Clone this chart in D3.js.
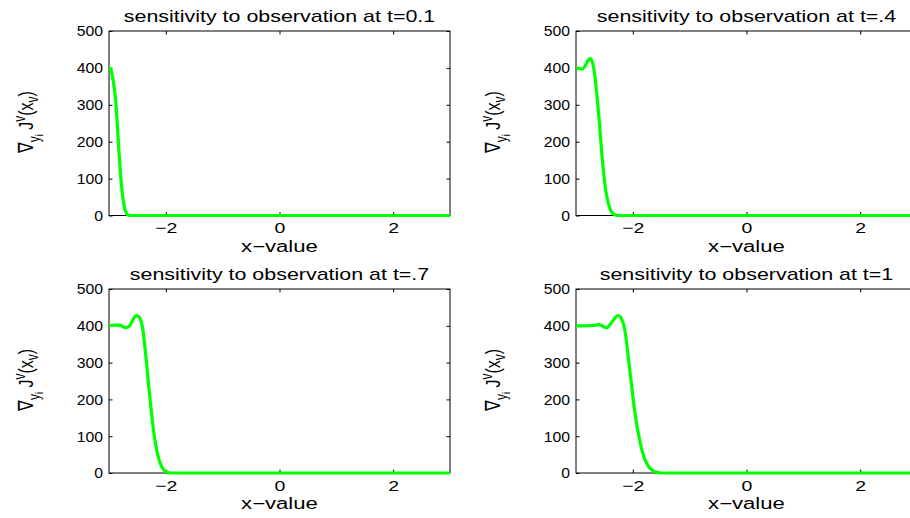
<!DOCTYPE html>
<html>
<head>
<meta charset="utf-8">
<script src="https://cdn.jsdelivr.net/npm/d3@7"></script>
<style>
  html, body { margin: 0; padding: 0; background: #fff; }
  svg { display: block; }
  text { font-family: "Liberation Sans", Arial, Helvetica, sans-serif; fill: #000; }
</style>
</head>
<body>
<svg id="chart" width="910" height="518"></svg>
<script>
// ---- data ----
const titles = [
  "sensitivity to observation at t=0.1",
  "sensitivity to observation at t=.4",
  "sensitivity to observation at t=.7",
  "sensitivity to observation at t=1"
];
const xLabel = "x\u2212value";
const xTicks = [-2, 0, 2];
const yTicks = [0, 100, 200, 300, 400, 500];
const xDomain = [-3, 3];
const yDomain = [0, 500];

const x1 = [-3, -2.97, -2.95, -2.92, -2.89, -2.86, -2.83, -2.80, -2.77, -2.74, -2.71, -2.68, -2.64, -2.6, 3];
const y1 = [400, 398, 385, 360, 322, 262, 185, 118, 66, 31, 12, 3, 0.5, 0, 0];

const x2 = [-3, -2.94, -2.89, -2.84, -2.79, -2.75, -2.71, -2.67, -2.63, -2.59, -2.55, -2.51, -2.47, -2.43, -2.39, -2.35, -2.30, -2.24, 3];
const y2 = [400, 398, 397, 405, 420, 425, 415, 380, 322, 255, 175, 110, 62, 32, 14, 5, 1, 0, 0];

const x3 = [-3, -2.9, -2.82, -2.76, -2.70, -2.65, -2.60, -2.55, -2.51, -2.47, -2.43, -2.40, -2.37, -2.34, -2.31, -2.28, -2.25, -2.22, -2.19, -2.16, -2.13, -2.10, -2.06, -2.02, -1.97, -1.92, 3];
const y3 = [400, 402, 402, 398, 395, 398, 410, 424, 428, 424, 410, 385, 345, 300, 250, 205, 160, 120, 88, 62, 42, 27, 14, 6, 2, 0, 0];

const x4 = [-3, -2.85, -2.7, -2.6, -2.55, -2.5, -2.46, -2.42, -2.37, -2.31, -2.26, -2.22, -2.18, -2.14, -2.11, -2.08, -2.05, -2.02, -1.99, -1.96, -1.92, -1.88, -1.84, -1.80, -1.76, -1.72, -1.68, -1.63, -1.57, -1.50, 3];
const y4 = [400, 400, 401, 403, 401, 396, 395, 400, 410, 422, 428, 424, 412, 388, 355, 315, 275, 235, 195, 160, 122, 90, 62, 42, 28, 17, 10, 5, 2, 0, 0];

const seriesX = [x1, x2, x3, x4];
const seriesY = [y1, y2, y3, y4];

// ---- layout ----
const svg = d3.select("#chart");
const panels = [
  { left: 109, top: 31, width: 341, height: 184.5 },
  { left: 576, top: 31, width: 341, height: 184.5 },
  { left: 109, top: 289, width: 341, height: 184 },
  { left: 576, top: 289, width: 341, height: 184 }
];
const tickLen = 3.5;

function stretch(sel, f) {
  sel.each(function () {
    const n = d3.select(this);
    n.attr("textLength", this.getComputedTextLength() * f).attr("lengthAdjust", "spacingAndGlyphs");
  });
}

panels.forEach((p, i) => {
  const g = svg.append("g").attr("transform", `translate(${p.left},${p.top})`);
  const x = d3.scaleLinear().domain(xDomain).range([0, p.width]);
  const y = d3.scaleLinear().domain(yDomain).range([p.height, 0]);

  // box
  g.append("rect").attr("x", 0).attr("y", 0).attr("width", p.width).attr("height", p.height)
    .attr("fill", "none").attr("stroke", "#000").attr("stroke-width", 1);

  const fmt = d3.format("~g");
  // bottom axis with labels
  const xb = g.append("g").attr("class", "xa").attr("transform", `translate(0,${p.height})`)
    .call(d3.axisBottom(x).tickValues(xTicks).tickFormat(fmt).tickSizeInner(-tickLen).tickSizeOuter(0).tickPadding(7));
  // top axis ticks only
  g.append("g").call(d3.axisTop(x).tickValues(xTicks).tickSizeInner(-tickLen).tickSizeOuter(0).tickFormat(""));
  // left axis with labels
  const yb = g.append("g").attr("class", "ya")
    .call(d3.axisLeft(y).tickValues(yTicks).tickFormat(fmt).tickSizeInner(-tickLen).tickSizeOuter(0).tickPadding(6));
  // right axis ticks only
  g.append("g").attr("transform", `translate(${p.width},0)`)
    .call(d3.axisRight(y).tickValues(yTicks).tickSizeInner(-tickLen).tickSizeOuter(0).tickFormat(""));

  g.selectAll(".domain").remove();
  g.selectAll(".tick line").attr("stroke", "#000");
  g.selectAll(".tick text").attr("font-size", 15).attr("font-family", "Liberation Sans, Arial, sans-serif").attr("fill", "#000");
  stretch(xb.selectAll(".tick text"), 1.3);
  stretch(yb.selectAll(".tick text"), 1.05);

  // curve
  const pts = seriesX[i].map((v, k) => [v, seriesY[i][k]]);
  g.append("path").datum(pts)
    .attr("fill", "none").attr("stroke", "#00ff00").attr("stroke-width", 3.2)
    .attr("stroke-linejoin", "round")
    .attr("d", d3.line().x(d => x(d[0])).y(d => y(d[1])).curve(d3.curveMonotoneX));

  // title
  const t = g.append("text").attr("x", p.width / 2).attr("y", -9)
    .attr("text-anchor", "middle").attr("font-size", 17).text(titles[i]);
  stretch(t, 1.26);

  // x label
  const xl = g.append("text").attr("x", p.width / 2).attr("y", p.height + 36)
    .attr("text-anchor", "middle").attr("font-size", 16).text(xLabel);
  stretch(xl, 1.38);

  // y label: ∇_{y_i} J^v(x_v)
  const yl = g.append("text")
    .attr("transform", `translate(${-76},${p.height / 2 - 1}) rotate(-90) scale(1,1.3)`)
    .attr("text-anchor", "middle").attr("font-size", 16);
  yl.append("tspan").text("\u2207");
  yl.append("tspan").attr("font-size", 12).attr("dy", 5).text("y");
  yl.append("tspan").attr("font-size", 9).attr("dy", 3).text("i");
  yl.append("tspan").attr("dy", -8).text(" J");
  yl.append("tspan").attr("font-size", 12).attr("dy", -6).text("v");
  yl.append("tspan").attr("dy", 6).text("(x");
  yl.append("tspan").attr("font-size", 12).attr("dy", 4).text("v");
  yl.append("tspan").attr("dy", -4).text(")");
});
</script>
</body>
</html>
